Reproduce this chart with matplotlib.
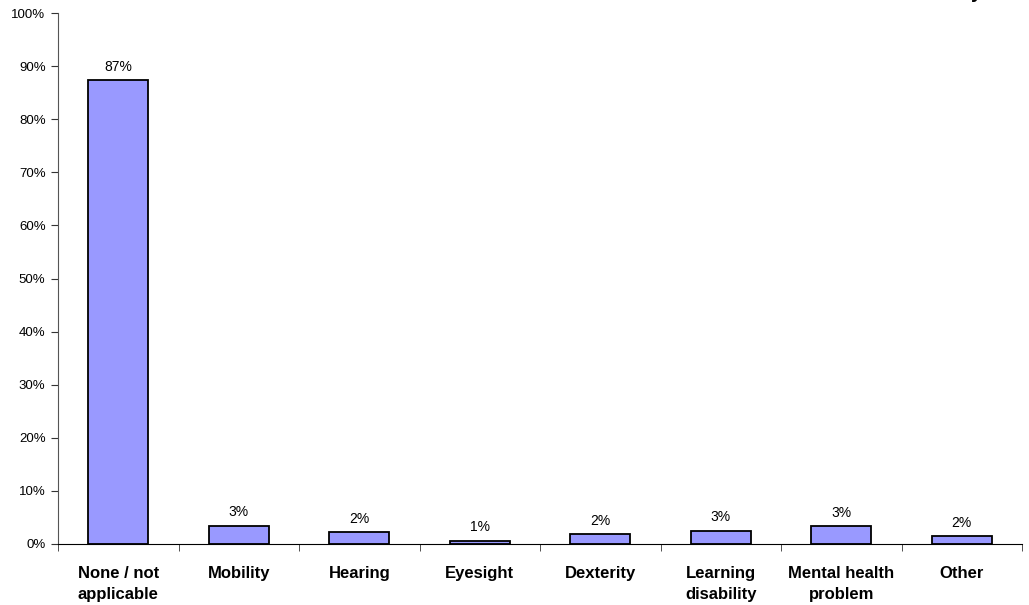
import matplotlib.pyplot as plt
import numpy as np

categories = ["None / not\napplicable", "Mobility", "Hearing", "Eyesight",
              "Dexterity", "Learning\ndisability", "Mental health\nproblem", "Other"]
values = [87.3, 3.45, 2.2, 0.6, 1.8, 2.5, 3.4, 1.5]
labels = ["87%", "3%", "2%", "1%", "2%", "3%", "3%", "2%"]

plt.rcParams['font.family'] = ['Liberation Sans', 'DejaVu Sans']

fig = plt.figure(figsize=(10.29, 6.05), dpi=100)
ax = fig.add_axes([58/1029, 1-544/605, (1022-58)/1029, (544-13)/605])

x = np.arange(len(categories))
ax.bar(x, values, width=0.5, color='#9999FF', edgecolor='black', linewidth=1.3)

for xi, v, lab in zip(x, values, labels):
    ax.text(xi, v + 1.2, lab, ha='center', va='bottom', fontsize=10)

ax.set_xlim(-0.5, len(categories) - 0.5)
ax.set_ylim(0, 100)
ax.set_yticks(np.arange(0, 101, 10))
ax.set_yticklabels([f"{t}%" for t in range(0, 101, 10)], fontsize=9.5)

ax.set_xticks(x)
ax.set_xticklabels(categories, fontsize=12, fontweight='bold', linespacing=1.45)
ax.set_xticks(np.arange(-0.5, len(categories), 1), minor=True)
ax.tick_params(axis='x', which='major', length=0, pad=16)
ax.tick_params(axis='x', which='minor', length=5, direction='out', color='#333333')
ax.tick_params(axis='y', length=5, direction='out', color='#333333', pad=4)

ax.spines['top'].set_visible(False)
ax.spines['right'].set_visible(False)
ax.spines['left'].set_color('#555555')
ax.spines['bottom'].set_color('black')

# title sits mostly above the top edge in the original; only a descender shows
fig.text(982/1029, 1 + 2/605, "y", ha='right', va='baseline', fontsize=14, fontweight='bold')

fig.savefig('out.png', dpi=100)
